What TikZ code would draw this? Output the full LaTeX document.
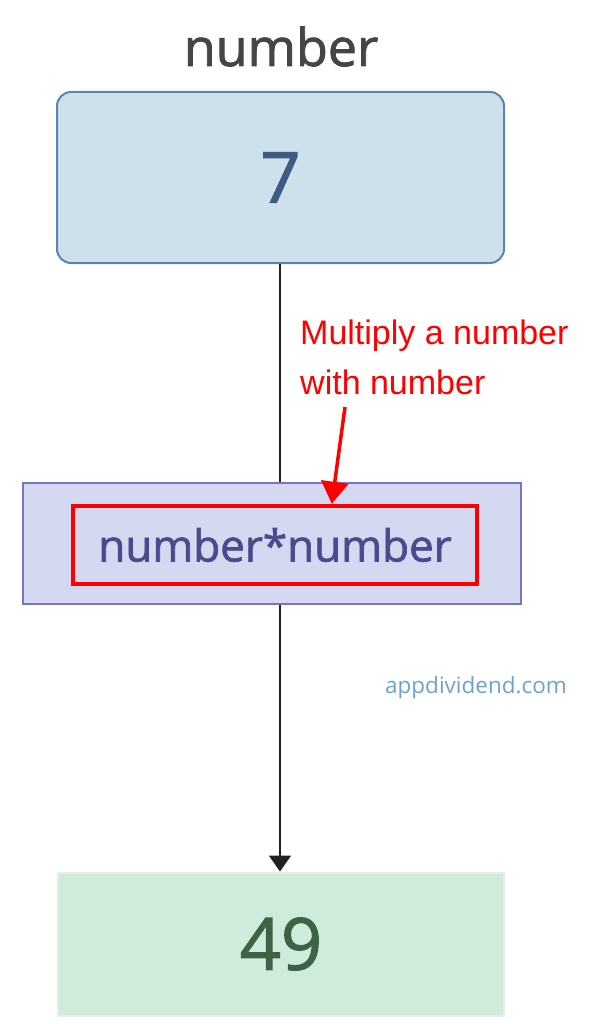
\documentclass[tikz,border=0pt]{standalone}
\usepackage{fontspec}
\setmainfont{Open Sans}
\newfontfamily\heavyfont{Open Sans}[FakeBold = 1.6]
\newfontfamily\notefont{Liberation Sans}
\usepackage{xcolor}
\usetikzlibrary{arrows.meta}

\definecolor{titlegrey}{HTML}{454545}
\definecolor{valuefill}{HTML}{CDE0EC}
\definecolor{valueline}{HTML}{5A85B2}
\definecolor{valuetext}{HTML}{3E5C82}
\definecolor{opfill}{HTML}{D4D8F1}
\definecolor{opline}{HTML}{7575C2}
\definecolor{optext}{HTML}{4B4A8C}
\definecolor{resultfill}{HTML}{CFEBDA}
\definecolor{resultline}{HTML}{E6EEE9}
\definecolor{resulttext}{HTML}{3F6246}
\definecolor{marktext}{HTML}{6EA2CE}

\tikzset{
    box/.style = {rectangle, inner sep = 0pt, line width = 2pt},
    flow/.style = {draw = black!87, line width = 2pt}
}

\begin{document}
\begin{tikzpicture}[x = 1pt, y = -1pt]
        \useasboundingbox (0, 0) rectangle (609, 1024);
        \node (title) at (281, 66) [anchor = base, text = titlegrey, font = \heavyfont\fontsize{52}{60}\selectfont] {number};
        \node (value) at (280.5, 177.5) [box, rounded corners = 14pt, fill = valuefill, draw = valueline, minimum width = 447pt, minimum height = 171pt, text = valuetext, font = \heavyfont\fontsize{70}{80}\selectfont] {7};
        \node (op) at (272, 543.5) [box, fill = opfill, draw = opline, minimum width = 498pt, minimum height = 121pt] {};
        \node (prod) at (275, 545) [box, draw = red, line width = 4.5pt, minimum width = 404pt, minimum height = 78pt, text = optext, font = \heavyfont\fontsize{44}{52}\selectfont] {number*number};
        \node (result) at (281, 944) [box, fill = resultfill, draw = resultline, minimum width = 446pt, minimum height = 143pt, text = resulttext, font = \heavyfont\fontsize{72}{80}\selectfont] {49};
        \node (note) at (300, 320) [anchor = north west, inner sep = 0pt, align = left, text = red, font = \notefont\fontsize{34}{50}\selectfont] {Multiply a number\\with number};
        \node (mark) at (476, 688) [text = marktext, font = \fontsize{22.5}{26}\selectfont] {appdividend.com};
        \coordinate (pin) at (345, 407);
        \coordinate (axis) at (280, 0);
        \draw [flow] (value.south -| axis) -- (op.north -| axis);
        \draw [flow, -{Triangle[length = 16pt, width = 22pt]}] (op.south -| axis) -- (result.north -| axis);
        \draw [red, line width = 3.5pt, -{Triangle[length = 22pt, width = 27pt]}] (pin) -- (prod.36);
    \end{tikzpicture}
\end{document}
